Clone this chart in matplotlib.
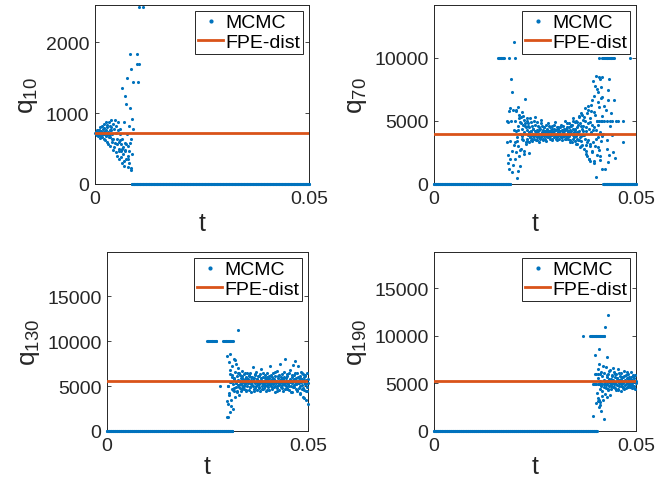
import numpy as np
import matplotlib
matplotlib.use("Agg")
import matplotlib.pyplot as plt
from matplotlib.lines import Line2D

plt.rcParams['font.family'] = ['Liberation Sans', 'DejaVu Sans']
plt.rcParams['mathtext.fontset'] = 'custom'
plt.rcParams['mathtext.rm'] = 'Liberation Sans'

BLUE = '#0072BD'
RED = '#D95319'
DARK = '#262626'

# time axis: 501 samples, dt = 1e-4, indices below are sample numbers
dt = 1e-4
n_steps = 501

# ---- q10 ----
q10_zero = (86, 500)
q10_fpe = 720
q10_k = [1, 2, 3, 4, 5, 6, 7, 8, 9, 10, 11, 12, 13, 14, 15, 16, 17, 18, 19, 20,
         21, 22, 23, 24, 25, 26, 27, 28, 29, 30, 31, 32, 33, 34, 35, 36, 37, 38, 39, 40,
         41, 42, 43, 44, 45, 46, 47, 48, 49, 50, 51, 52, 53, 54, 55, 56, 57, 58, 59, 60,
         61, 62, 63, 64, 65, 66, 67, 68, 69, 70, 71, 72, 73, 74, 75, 76, 77, 78, 79, 80,
         81, 82, 83, 84, 85, 86, 87, 88, 89, 97, 97, 100, 102, 103, 113,
         2, 4, 6, 8, 10, 12, 14, 16, 18, 20, 22, 24, 26, 28, 30, 32, 34, 36, 38, 40,
         52, 55, 58, 61, 64, 67, 70, 73, 76, 79, 82, 85]
q10_q = [720, 700, 740, 690, 760, 710, 680, 730, 770, 700, 650, 800, 720, 690, 750, 820, 660, 710, 780, 640,
         730, 850, 700, 620, 760, 870, 690, 600, 800, 740, 560, 880, 710, 660, 820, 540, 900, 760, 600, 700,
         480, 850, 640, 780, 520, 900, 580, 720, 450, 820, 640, 400, 760, 880, 500, 600, 350, 780, 700, 460,
         560, 300, 1350, 640, 520, 420, 880, 260, 580, 1250, 480, 1130, 360, 1500, 700, 240, 540, 400, 820, 300,
         1080, 1840, 200, 640, 1620, 920, 420, 780, 1440, 1840, 1690, 1440, 1690, 2500, 2500,
         730, 690, 750, 700, 760, 720, 680, 740, 710, 790, 700, 750, 680, 830, 720, 660, 770, 700, 810, 640,
         560, 470, 620, 380, 500, 330, 460, 560, 350, 470, 580, 230]

# ---- q70 ----
q70_zero = [(0, 188), (419, 500)]
q70_fpe = 4000
q70_cap_k = [158, 160, 161, 163, 165, 167, 169, 171, 172, 174, 186, 200,
             409, 416, 419, 421, 423, 425, 427, 429, 431, 433, 435, 437, 439, 441, 443, 445, 485]
q70_cap_q = 10000
q70_mid_k = [404, 408, 413, 417, 422, 427, 435, 441, 450, 456, 467]
q70_mid_q = 5000
q70_k = (list(range(180, 200)) + list(range(200, 230)) + list(range(201, 230, 2))
         + list(range(230, 370)) + list(range(231, 370, 2))
         + list(range(370, 419)) + list(range(371, 418, 2))
         + [236, 431, 434, 431, 430, 445, 444, 448, 468, 423, 428, 440, 436, 425, 420, 427, 433, 438])
q70_q = [5000, 3300, 4900, 2300, 1700, 5800, 1200, 3400, 6000, 2000, 8300, 5000, 950, 7300, 2600, 5900, 1500, 11300, 4300, 3100,
         3300, 5000, 2500, 4200, 5900, 3700, 450, 4600, 6100, 3000, 5500, 2200, 4000, 4900, 1450, 5300, 2800, 4400, 3800, 5700,
         3500, 4700, 2600, 5100, 4100, 6750, 4800, 3200, 4500, 5200,
         2000, 5800, 3400, 1060, 4300, 5200, 2700, 4800, 3600, 3900, 5400, 2400, 4600, 3300, 5000,
         4300, 3600, 4800, 3900, 3300, 4500, 4100, 3700, 5200, 3500, 4200, 3900, 4600, 3400, 4000, 4400, 3800, 5000, 3600, 4200,
         3900, 4700, 3500, 4100, 4300, 3700, 4900, 3800, 4200, 3300, 4500, 4000, 3600, 4400, 3900, 5100, 3700, 4100, 4600, 3500,
         4000, 4300, 3800, 4500, 3600, 4200, 3900, 4700, 3400, 4100, 4400, 3700, 4000, 4800, 3900, 4200, 3600, 4500, 3800, 4100,
         4300, 3900, 4600, 3500, 4100, 4000, 4400, 3700, 4200, 3800, 4900, 3600, 4300, 4000, 3700, 4500, 3900, 4100, 4400, 3600,
         4200, 3800, 4500, 4000, 3700, 4700, 3900, 4300, 3500, 4100, 4600, 3800, 4200, 4000, 5000, 3600, 4400, 3900, 4300, 3700,
         4500, 4000, 3600, 4800, 4100, 3800, 4300, 3500, 4600, 4000, 4200, 3300, 4700, 3900, 4400, 5200, 3700, 4100, 4900, 3400,
         4300, 3800, 5000, 3600, 4500, 3200, 4700, 4000, 5400, 3500, 4200, 2900, 4800, 3800, 5600, 3400, 4400, 3100, 5100, 3900,
         3400, 4600, 4000, 3700, 4900, 4200, 3600, 4400, 3800, 5300, 3900, 4100, 3500, 4600, 4300, 3700, 4000, 4800, 3900, 4200,
         3600, 4500, 4100, 3800, 4300, 4000, 3700, 4600, 4200, 3900, 4400, 3600, 4100, 4700, 3800, 4000, 4300, 3500, 4500, 4100,
         3900, 4200, 4600, 3700, 4000, 4400, 3800, 4300, 3600, 4800, 4100, 3900, 4500, 3300, 4700, 4000, 3600, 5000, 3800, 4400,
         3200, 4900, 4100, 3500, 5300, 3700, 4600, 3000, 5500, 4200,
         4600, 2800, 5300, 3600, 6000, 2400, 4200, 3100, 5600, 2200, 4800, 3500, 6200, 2000, 4400, 3000, 5200, 1800, 4100, 5800,
         2600, 4700, 6700, 3300, 8200, 1850, 4500, 5700, 3000, 7800, 530, 4300, 8600, 2300, 5000, 6500, 3700, 7300, 2700, 8500,
         4100, 8300, 1900, 6800, 3400, 5400, 1200, 8500, 4000,
         3900, 5000, 2600, 4500, 3300, 5900, 2000, 4900, 3200, 6300, 2500, 4300, 7000, 1700, 5500, 3600, 7500, 2900, 4700, 6100,
         2200, 7700, 3800, 6900,
         2430, 1720, 8330, 7480, 6700, 6700, 2500, 2100, 3330, 1190, 2800, 3900, 4600, 5900, 6200, 3500, 2300, 5600]

# ---- q130 ----
q130_zero = [(0, 312)]
q130_fpe = 5550
q130_cap_k = [248, 250, 252, 254, 256, 258, 260, 262, 264, 266, 268, 270, 272,
              289, 291, 293, 295, 297, 299, 301, 303, 305, 307, 309, 311, 313]
q130_cap_q = 10000
q130_k = ([281, 325] + list(range(298, 330)) + list(range(299, 330, 2))
          + list(range(330, 501)) + list(range(331, 500, 2)))
q130_q = [5040, 11250,
          1600, 8300, 3000, 5000, 1550, 7700, 4200, 6300, 2100, 8600, 5500, 3500, 7200, 4700, 6000, 5200, 2500, 8000, 4500, 5800,
          6600, 3800, 5300, 7500, 4900, 6100, 4300, 5600, 7000, 5100, 4000, 6400,
          3300, 5000, 4000, 6800, 5400, 2800, 6200, 4600, 5900, 4800, 7900, 5300, 4400, 6500, 5700, 4900,
          5600, 4800, 6200, 5300, 4500, 5900, 5100, 6700, 4900, 5700, 5400, 6300, 4700, 5800, 5200, 6000, 4400, 5500, 6500, 5000,
          5800, 5300, 4600, 6100, 5500, 4900, 6400, 5200, 5700, 4300, 6000, 5400, 7100, 5000, 5600, 4700, 5900, 5300, 6200, 4800,
          5500, 6600, 5100, 4600, 5800, 5300, 6100, 4900, 5600, 5200, 6300, 4500, 5700, 5400, 6900, 5000, 5500, 4700, 6000, 5200,
          5600, 4800, 6200, 5300, 5900, 4400, 5700, 5100, 6500, 5400, 4900, 5800, 5200, 6100, 4600, 5500, 7200, 5000, 5700, 5300,
          6000, 4700, 5600, 5200, 6400, 4900, 5800, 5400, 4300, 6100, 5300, 5600, 5000, 6700, 4800, 5500, 5900, 5100, 6200, 4600,
          5700, 5300, 6000, 4900, 5500, 6300, 5100, 5800, 4400, 5600, 6600, 5200, 5400, 4700, 8000, 5000, 5900, 5300, 6100, 4800,
          5600, 5200, 6400, 4600, 5700, 5400, 6800, 5000, 5500, 4300, 6000, 5300, 7300, 4900, 5800, 5100, 6200, 7800, 5400, 4700,
          5900, 5200, 6500, 4500, 5600, 5300, 7200, 4800, 5700, 5000, 6100, 4200, 5500, 6600, 4700, 5800, 5100, 6300, 3800, 5400,
          6000, 4600, 5200, 6200, 4400, 5700, 3500, 6400, 4900, 5300, 3000,
          5200, 5900, 4700, 6100, 5400, 5000, 6500, 5600, 4600, 5800, 5300, 6200, 4900, 5500, 6000, 5100, 5700, 4500, 6300, 5400,
          5000, 5800, 5600, 4800, 6100, 5300, 5900, 4700, 5500, 6400, 5200, 5000, 5700, 6000, 4600, 5400, 5900, 5100, 6200, 5500,
          4900, 5800, 5300, 6600, 5000, 5600, 4400, 6100, 5400, 5200, 7400, 5700, 4800, 5900, 5300, 6000, 5100, 5600, 4700, 6300,
          5500, 5000, 5800, 4300, 6200, 5400, 5700, 4900, 6500, 5200, 5600, 4600, 6000, 5300, 5900, 4100, 5500, 6400, 4800, 5700,
          3700, 6100, 5200, 4500, 5800]

# ---- q190 ----
q190_zero = [(0, 403)]
q190_fpe = 5250
q190_cap_k = [370, 386, 388, 390, 392, 394, 396, 398, 400, 402, 404, 406, 408, 410, 412, 414, 416, 418, 420, 422]
q190_cap_q = 10000
q190_mid_k = [393, 396, 399, 402, 405, 408, 411, 414, 417, 420, 423, 427]
q190_mid_q = 4950
q190_hi_k = [398, 402, 406, 410]
q190_hi_q = 6000
q190_k = ([430, 424, 409, 427, 399, 394, 421, 413, 402, 408, 411, 405]
          + list(range(404, 501)) + list(range(425, 500, 2)))
q190_q = [12200, 10950, 8630, 7820, 7930, 1610, 1260, 2100, 2900, 3300, 2700, 3200,
          4000, 6500, 3500, 5600, 2500, 7000, 4400, 5200, 3000, 6200, 4700, 3700, 5800, 4200, 6800, 3300, 5400, 4600, 6100, 3900,
          5300, 4500, 6700, 4900, 3600, 5700, 4300, 6000, 5100, 4700, 5500, 3800, 6400, 4800, 5200, 4400, 5900, 5000, 6600, 4600,
          5400, 4900, 6200, 4500, 5700, 5100, 4300, 6000, 5300, 4800, 5600, 4400, 6500, 5000, 5200, 4700, 5800, 5100, 4200, 5500,
          6100, 4900, 5300, 4600, 5700, 5000, 6300, 4400, 5400, 5200, 4800, 5900, 4500, 5600, 5100, 6000, 4700, 5300, 4900, 5700,
          4600, 5500, 5200, 6200, 4800, 5000, 5400, 4500, 5800, 5100, 4700, 5600, 5300, 4400, 5900, 5000, 5200,
          4800, 5900, 5200, 4400, 6300, 5000, 5500, 4700, 5800, 5300, 4600, 6000, 5100, 4900, 5600, 4300, 5400, 6100, 5000, 4700,
          5700, 5200, 4500, 5800, 5300, 4900, 6200, 5100, 4600, 5500, 5000, 5700, 4800, 5400, 5900, 4500, 5300, 5100]


def collect(zero_ranges, groups):
    ks, qs = [], []
    for a, b in zero_ranges:
        ks += list(range(a, b + 1))
        qs += [0] * (b - a + 1)
    for k, q in groups:
        if np.isscalar(q):
            q = [q] * len(k)
        ks += list(k)
        qs += list(q)
    return np.array(ks) * dt, np.array(qs)


panels = [
    dict(pos=[95, 6, 309, 185], ylim=2530, yticks=[0, 1000, 2000], name='10', xpad=3,
         data=collect([q10_zero], [(q10_k, q10_q)]), fpe=q10_fpe),
    dict(pos=[434, 6, 636, 185], ylim=14200, yticks=[0, 5000, 10000], name='70', xpad=3,
         data=collect(q70_zero, [(q70_cap_k, q70_cap_q), (q70_mid_k, q70_mid_q), (q70_k, q70_q)]), fpe=q70_fpe),
    dict(pos=[107, 253, 308, 432], ylim=19900, yticks=[0, 5000, 10000, 15000], name='130', xpad=0,
         data=collect(q130_zero, [(q130_cap_k, q130_cap_q), (q130_k, q130_q)]), fpe=q130_fpe),
    dict(pos=[434, 253, 636, 432], ylim=18800, yticks=[0, 5000, 10000, 15000], name='190', xpad=0,
         data=collect(q190_zero, [(q190_cap_k, q190_cap_q), (q190_mid_k, q190_mid_q),
                                  (q190_hi_k, q190_hi_q), (q190_k, q190_q)]), fpe=q190_fpe),
]

W, H = 659, 481
fig = plt.figure(figsize=(W / 100, H / 100), dpi=100)
t_grid = np.arange(n_steps) * dt

for p in panels:
    x0, y0, x1, y1 = p['pos']
    ax = fig.add_axes([x0 / W, 1 - y1 / H, (x1 - x0) / W, (y1 - y0) / H])
    t, q = p['data']
    ax.scatter(t, q, s=5, color=BLUE, linewidths=0, clip_on=False, zorder=3)
    ax.plot(t_grid, np.full(n_steps, p['fpe']), color=RED, lw=2.0, zorder=4)
    ax.set_xlim(0, 0.05)
    ax.set_ylim(0, p['ylim'])
    ax.set_xticks([0, 0.05])
    ax.set_xticklabels(['0', '0.05'])
    ax.set_yticks(p['yticks'])
    ax.set_yticklabels([str(v) for v in p['yticks']])
    ax.tick_params(direction='in', top=True, right=True, length=3, width=0.6,
                   labelsize=14, colors=DARK, pad=4)
    for s in ax.spines.values():
        s.set_color(DARK)
        s.set_linewidth(0.7)
    ax.set_xlabel('t', fontsize=18, color=DARK, labelpad=p['xpad'])
    ax.set_ylabel(r'$\mathregular{q_{' + p['name'] + '}}$', fontsize=19, color=DARK, labelpad=4)
    handles = [Line2D([], [], ls='none', marker='.', ms=4, color=BLUE),
               Line2D([], [], color=RED, lw=2.0)]
    leg = ax.legend(handles, ['MCMC', 'FPE-dist'], loc='upper right', fontsize=14,
                    frameon=True, fancybox=False, framealpha=1, edgecolor=DARK,
                    borderaxespad=0.3, borderpad=0.15, handlelength=1.3,
                    handletextpad=0.1, labelspacing=0.1)
    leg.get_frame().set_linewidth(0.7)

fig.savefig('out.png', dpi=100)
